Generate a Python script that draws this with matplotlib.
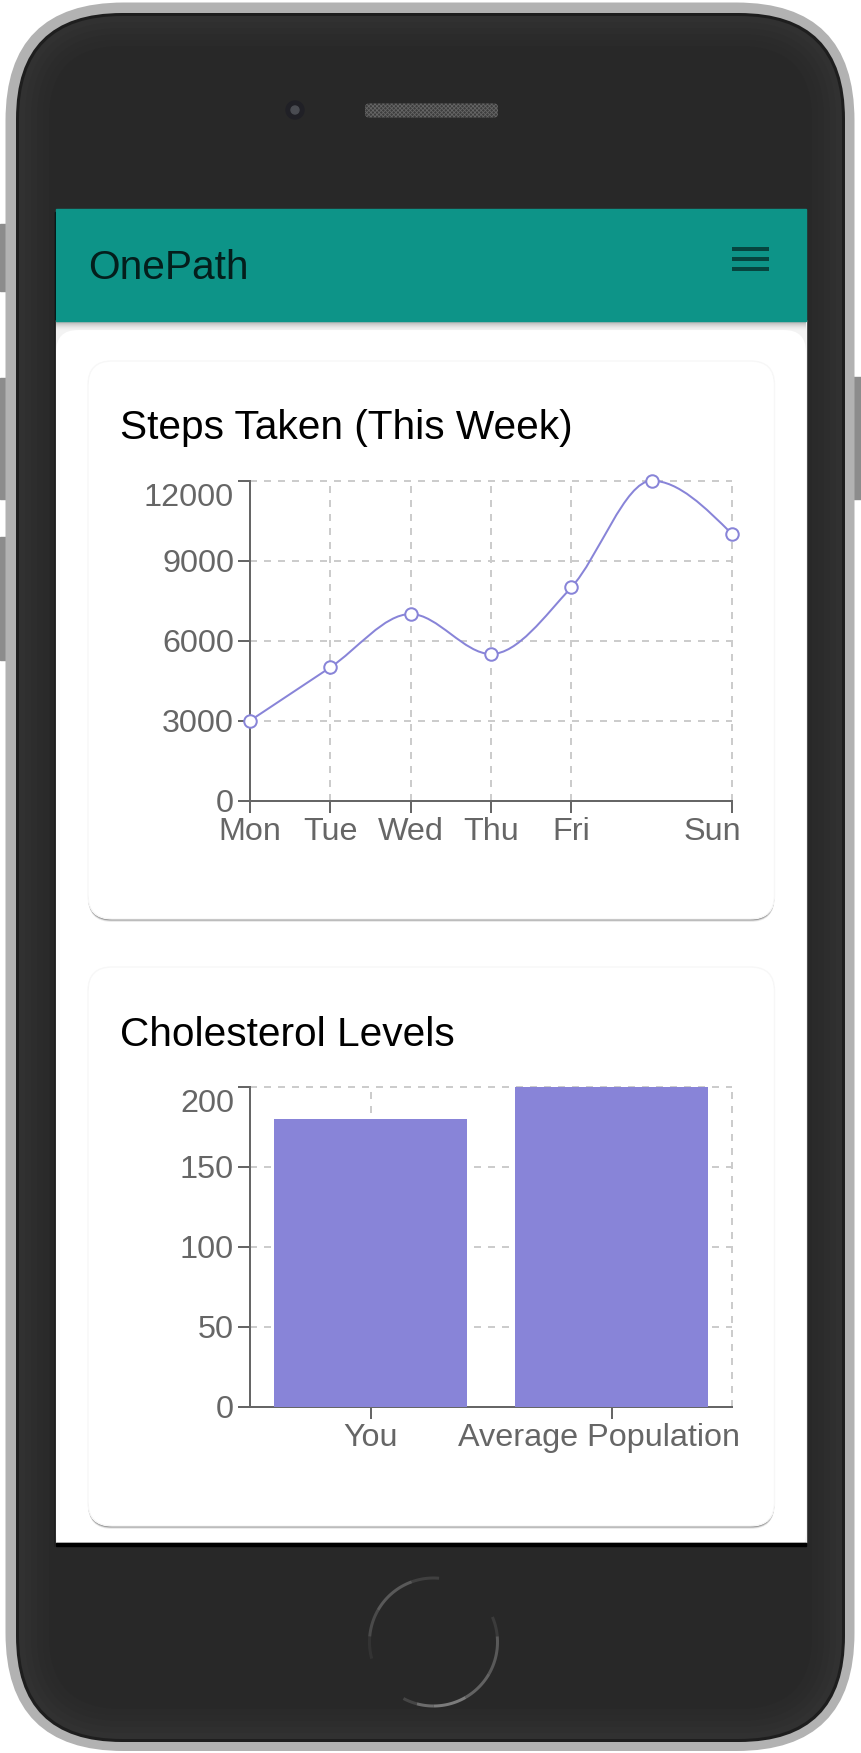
import matplotlib
matplotlib.use('Agg')
import numpy as np
import matplotlib.pyplot as plt
from matplotlib.patches import FancyBboxPatch, Rectangle, Circle
from matplotlib.path import Path
from matplotlib.patches import PathPatch
from matplotlib.transforms import ScaledTranslation

plt.rcParams['font.family'] = ['Liberation Sans', 'DejaVu Sans']
plt.rcParams['hatch.linewidth'] = 0.6

W, H = 861, 1753
PX = 0.72  # points per pixel at dpi 100

# data
days = ['Mon', 'Tue', 'Wed', 'Thu', 'Fri', 'Sat', 'Sun']
steps = [3000, 5000, 7000, 5500, 8000, 12000, 10000]
shown_days = ['Mon', 'Tue', 'Wed', 'Thu', 'Fri', 'Sun']
steps_ticks = [0, 3000, 6000, 9000, 12000]

groups = ['You', 'Average Population']
cholesterol = [180, 200]
chol_ticks = [0, 50, 100, 150, 200]

PURPLE = '#8884d8'
TICK = '#666666'
GRID = '#cccccc'
DASH = (0, (3.5, 3.5))


def rounded(ax, x0, y0, x1, y1, r, color, z=1, **kw):
    p = FancyBboxPatch((x0, y0), x1 - x0, y1 - y0, boxstyle='round,pad=0,rounding_size=%g' % r,
                       facecolor=color, edgecolor=kw.pop('ec', 'none'), zorder=z, **kw)
    ax.add_patch(p)
    return p


# same tangents as a d3 monotoneX curve
def monotone_path(x, y):
    n = len(x)
    t = [0.0] * n
    for i in range(1, n - 1):
        h0, h1 = x[i] - x[i - 1], x[i + 1] - x[i]
        s0, s1 = (y[i] - y[i - 1]) / h0, (y[i + 1] - y[i]) / h1
        p = (s0 * h1 + s1 * h0) / (h0 + h1)
        sg = (s0 > 0) - (s0 < 0) + (s1 > 0) - (s1 < 0)
        t[i] = sg * min(abs(s0), abs(s1), 0.5 * abs(p))
    t[0] = (3 * (y[1] - y[0]) / (x[1] - x[0]) - t[1]) / 2
    t[-1] = (3 * (y[-1] - y[-2]) / (x[-1] - x[-2]) - t[-2]) / 2
    verts = [(x[0], y[0])]
    codes = [Path.MOVETO]
    for i in range(n - 1):
        dx = (x[i + 1] - x[i]) / 3
        verts += [(x[i] + dx, y[i] + dx * t[i]), (x[i + 1] - dx, y[i + 1] - dx * t[i + 1]), (x[i + 1], y[i + 1])]
        codes += [Path.CURVE4] * 3
    return Path(verts, codes)


def chart_axes(fig, top, bottom, left=250, right=732):
    ax = fig.add_axes([left / W, 1 - bottom / H, (right - left) / W, (bottom - top) / H], zorder=5)
    ax.patch.set_alpha(0)
    for s in ['top', 'right']:
        ax.spines[s].set_visible(False)
    for s in ['left', 'bottom']:
        ax.spines[s].set_color(TICK)
        ax.spines[s].set_linewidth(2 * PX)
    ax.tick_params(axis='both', length=12 * PX, width=2 * PX, color=TICK, labelcolor=TICK,
                   labelsize=32.4 * PX)
    ax.tick_params(axis='y', pad=4 * PX)
    ax.tick_params(axis='x', pad=4 * PX)
    ax.set_axisbelow(True)
    ax.grid(True, color=GRID, linewidth=2 * PX, linestyle=DASH)
    return ax


def open_grid(ax):
    for line in ax.get_xgridlines() + ax.get_ygridlines():
        line.set_clip_on(False)


def shift_label(label, fig, dx=0, dy=0):
    label.set_transform(label.get_transform() + ScaledTranslation(dx * PX / 72, dy * PX / 72, fig.dpi_scale_trans))


def arc(ax, cx, cy, r, a0, a1, alpha):
    a = np.radians(np.linspace(a0, a1, 30))
    ax.plot(cx + r * np.cos(a), cy - r * np.sin(a), color='#8a8a8a', lw=3 * PX, alpha=alpha,
            solid_capstyle='butt', zorder=2)


fig = plt.figure(figsize=(W / 100, H / 100), dpi=100)
bg = fig.add_axes([0, 0, 1, 1], zorder=0)
bg.set_xlim(0, W)
bg.set_ylim(H, 0)
bg.axis('off')

# side buttons
for x0, y0, y1 in [(0, 224, 291), (0, 378, 499), (0, 537, 660), (853, 377, 499)]:
    bg.add_patch(Rectangle((x0, y0), 8, y1 - y0, color='#8c8c8c', zorder=0.5))

# phone body, dark rim then a soft lighter edge
rounded(bg, 5.5, 2.5, 854.5, 1751, 118, '#b2b2b2', z=1)
rounded(bg, 16, 13, 845, 1742, 106, '#1e1e1e', z=1.1)
rounded(bg, 19, 16, 842, 1739, 103, '#313131', z=1.2)
for i, c in enumerate(['#2f2f2f', '#2d2d2d', '#2b2b2b', '#2a2a2a', '#282828']):
    d = 6 * (i + 1)
    rounded(bg, 19 + d, 16 + d, 842 - d, 1739 - d, 103 - d, c, z=1.3 + i / 100)

# camera and speaker
bg.add_patch(Circle((295, 110), 9, color='#202026', zorder=2))
bg.add_patch(Circle((295, 110), 4, color='#4a4c52', zorder=2.1))
rounded(bg, 365, 103.5, 498, 117.5, 4, '#3c3c3c', z=2, ec='#666666', hatch='xxxxxxxx', lw=0)

# home button, fading arcs
for a0, a1, alpha in [(85, 110, .25), (110, 150, .5), (150, 175, .35), (175, 195, .12),
                      (23, 5, .2), (5, -30, .5), (-30, -60, .6), (-60, -90, .85),
                      (-90, -105, .7), (-105, -118, .3)]:
    arc(bg, 433.5, 1642, 64, a0, a1, alpha)

# screen
bg.add_patch(Rectangle((55, 212), 2, 1334, color='black', zorder=2))
bg.add_patch(Rectangle((56, 320), 750, 1224, color='#f3f3f3', zorder=2))
rounded(bg, 56, 330, 806, 1555, 22, 'white', z=2.1)
bg.add_patch(Rectangle((55, 1543), 752, 14, color='#282828', zorder=2.2))
bg.add_patch(Rectangle((56, 1543), 750, 3, color='black', zorder=2.3))

# shadow under the header
for i in range(10):
    bg.add_patch(Rectangle((56, 321 + i), 750, 1, color='black', alpha=0.3 * (1 - i / 10) ** 2, lw=0, zorder=2.4))
bg.add_patch(Rectangle((56, 209), 750, 112, color='#0d9488', zorder=2.5))
bg.text(88.5, 279, 'OnePath', fontsize=40.6 * PX, color='#041e1c', va='baseline', zorder=3)
for y in [247, 257, 267]:
    bg.add_patch(Rectangle((732, y), 37, 4, color='#06453f', lw=0, zorder=3))

# cards
for top, bottom in [(361, 919), (967, 1526)]:
    for off, alpha in [(3, .08), (2, .2), (1, .5)]:
        rounded(bg, 88, top + off, 774.5, bottom + off, 24, 'black', z=2.6, alpha=alpha)
    rounded(bg, 88, top, 774.5, bottom, 24, 'white', z=2.7, ec='#f7f7f7', lw=1)

bg.text(120.5, 439, 'Steps Taken (This Week)', fontsize=40.6 * PX, color='black', va='baseline', zorder=3)
bg.text(120.5, 1046, 'Cholesterol Levels', fontsize=40.6 * PX, color='black', va='baseline', zorder=3)

# steps line chart
xs = list(range(len(days)))
ax1 = chart_axes(fig, 480.7, 800.7)
ax1.set_xlim(0, 6)
ax1.set_ylim(0, 12000)
ax1.set_yticks(steps_ticks)
ax1.set_xticks([days.index(d) for d in shown_days])
ax1.set_xticklabels(shown_days)
open_grid(ax1)
ax1.add_patch(PathPatch(monotone_path(xs, steps), fill=False, edgecolor=PURPLE, lw=2 * PX, clip_on=False, zorder=4))
ax1.plot(xs, steps, linestyle='none', marker='o', markersize=12.5 * PX, markerfacecolor='white',
         markeredgecolor=PURPLE, markeredgewidth=2 * PX, clip_on=False, zorder=5)
for lab in ax1.get_yticklabels():
    if lab.get_text() == '12000':
        shift_label(lab, fig, dy=-14)
sun = ax1.get_xticklabels()[-1]
sun.set_ha('right')
shift_label(sun, fig, dx=9)

# cholesterol bar chart
ax2 = chart_axes(fig, 1086.8, 1407)
ax2.set_xlim(-0.5, 1.5)
ax2.set_ylim(0, 200)
ax2.set_yticks(chol_ticks)
ax2.set_xticks(range(len(groups)))
ax2.set_xticklabels(groups)
open_grid(ax2)
ax2.axvline(1.5, color=GRID, linewidth=2 * PX, linestyle=DASH, zorder=0.5, clip_on=False)
ax2.bar(range(len(groups)), cholesterol, width=0.8, color=PURPLE, zorder=3)
for lab in ax2.get_yticklabels():
    if lab.get_text() == '200':
        shift_label(lab, fig, dy=-14)
avg = ax2.get_xticklabels()[-1]
avg.set_ha('right')
shift_label(avg, fig, dx=129)

fig.savefig('out.png', dpi=100)
